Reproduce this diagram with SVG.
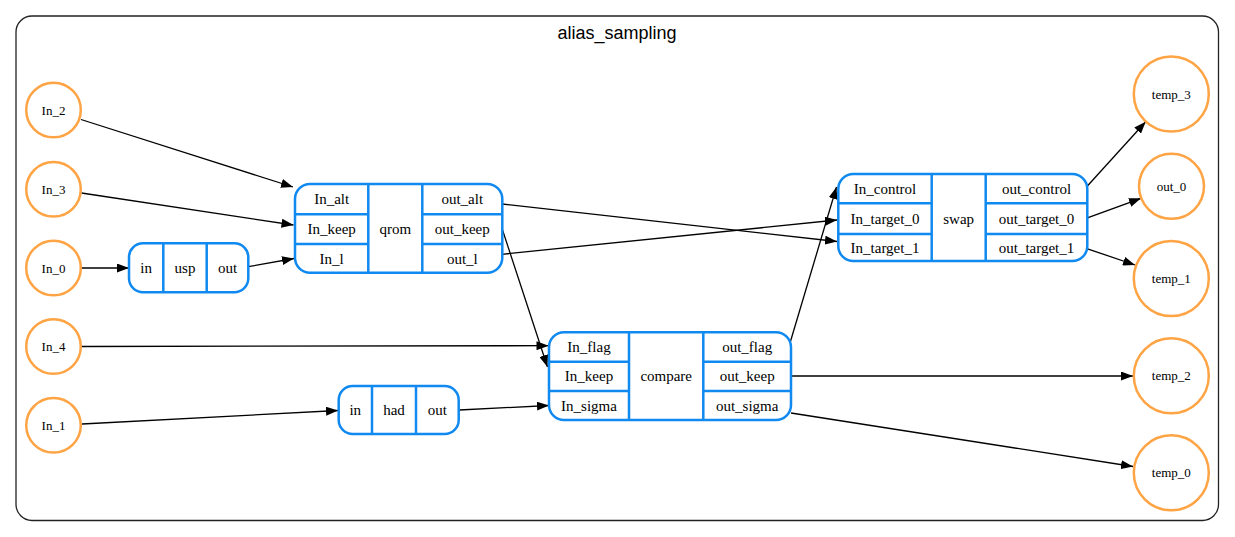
<svg xmlns="http://www.w3.org/2000/svg" width="1235" height="537" viewBox="0 0 1235 537">
  <style>
    .frame { fill: #ffffff; stroke: #222222; stroke-width: 1.3; }
    .title { font-family: "Liberation Sans", Arial, sans-serif; font-size: 18px; fill: #000; text-anchor: middle; }
    .reg { fill: #ffffff; stroke: #ffa444; stroke-width: 2.5; }
    .reglbl { font-family: "Liberation Serif", "Times New Roman", serif; font-size: 13px; fill: #000; text-anchor: middle; }
    .box { fill: #ffffff; stroke: #1089f0; stroke-width: 2.5; }
    .div { stroke: #1089f0; stroke-width: 2.5; fill: none; }
    .lbl { font-family: "Liberation Serif", "Times New Roman", serif; font-size: 15px; fill: #000; text-anchor: middle; }
    .edge { stroke: #000; stroke-width: 1.3; fill: none; marker-end: url(#arrow); }
  </style>
  <defs>
    <marker id="arrow" markerWidth="12" markerHeight="9" refX="12" refY="4.5" orient="auto" markerUnits="userSpaceOnUse">
      <path d="M0,0 L12,4.5 L0,9 z" fill="#000"/>
    </marker>
  </defs>

  <rect width="1235" height="537" fill="#ffffff"/>

  <!-- cluster -->
  <g id="cluster_alias_sampling">
    <rect class="frame" x="16" y="16" width="1202.5" height="504.5" rx="16" ry="16"/>
    <text class="title" x="617" y="39">alias_sampling</text>
  </g>

  <!-- connectors -->
  <g id="edges">
    <line class="edge" x1="81" y1="119.5" x2="293" y2="187"/>
    <line class="edge" x1="81.5" y1="193" x2="293.5" y2="225"/>
    <line class="edge" x1="81.5" y1="268" x2="129" y2="268"/>
    <line class="edge" x1="248.3" y1="266.7" x2="294" y2="258.5"/>
    <line class="edge" x1="502" y1="204" x2="837" y2="241.5"/>
    <line class="edge" x1="502.3" y1="229.3" x2="547.5" y2="367"/>
    <line class="edge" x1="502" y1="254.3" x2="837" y2="220"/>
    <line class="edge" x1="82" y1="346.5" x2="548.5" y2="345.7"/>
    <line class="edge" x1="82" y1="424" x2="338" y2="410.5"/>
    <line class="edge" x1="459.3" y1="410" x2="549" y2="405.5"/>
    <line class="edge" x1="790" y1="343" x2="836.5" y2="187"/>
    <line class="edge" x1="791" y1="376" x2="1133" y2="376"/>
    <line class="edge" x1="791" y1="413" x2="1133" y2="466.5"/>
    <line class="edge" x1="1086.7" y1="186.7" x2="1145.7" y2="121.7"/>
    <line class="edge" x1="1086" y1="218.3" x2="1141" y2="198.3"/>
    <line class="edge" x1="1086" y1="248.3" x2="1135" y2="265"/>
  </g>

  <!-- input registers -->
  <g id="In_2"><circle class="reg" cx="53.5" cy="110" r="27.3"/><text class="reglbl" x="53.5" y="114.5">In_2</text></g>
  <g id="In_3"><circle class="reg" cx="53.5" cy="189.3" r="27.3"/><text class="reglbl" x="53.5" y="193.8">In_3</text></g>
  <g id="In_0"><circle class="reg" cx="53.5" cy="268" r="27.3"/><text class="reglbl" x="53.5" y="272.5">In_0</text></g>
  <g id="In_4"><circle class="reg" cx="53.5" cy="346.5" r="27.3"/><text class="reglbl" x="53.5" y="351">In_4</text></g>
  <g id="In_1"><circle class="reg" cx="53.5" cy="425.3" r="27.3"/><text class="reglbl" x="53.5" y="429.8">In_1</text></g>

  <!-- output registers -->
  <g id="temp_3"><circle class="reg" cx="1171.3" cy="94" r="37.5"/><text class="reglbl" x="1171.3" y="98.5">temp_3</text></g>
  <g id="out_0"><circle class="reg" cx="1171.5" cy="186.3" r="32.5"/><text class="reglbl" x="1171.5" y="190.8">out_0</text></g>
  <g id="temp_1"><circle class="reg" cx="1171.3" cy="278.5" r="37.5"/><text class="reglbl" x="1171.3" y="283">temp_1</text></g>
  <g id="temp_2"><circle class="reg" cx="1171.3" cy="375.8" r="37.5"/><text class="reglbl" x="1171.3" y="380.3">temp_2</text></g>
  <g id="temp_0"><circle class="reg" cx="1171.3" cy="472.8" r="37.5"/><text class="reglbl" x="1171.3" y="477.3">temp_0</text></g>

  <!-- usp -->
  <g id="usp">
    <rect class="box" x="129" y="243.3" width="119.3" height="49" rx="14"/>
    <path class="div" d="M163.3,243.3 V292.3 M206.7,243.3 V292.3"/>
    <text class="lbl" x="146.2" y="273">in</text>
    <text class="lbl" x="185" y="273">usp</text>
    <text class="lbl" x="227.5" y="273">out</text>
  </g>

  <!-- had -->
  <g id="had">
    <rect class="box" x="338.7" y="386" width="120" height="48" rx="14"/>
    <path class="div" d="M372,386 V434 M416,386 V434"/>
    <text class="lbl" x="355.3" y="415">in</text>
    <text class="lbl" x="394" y="415">had</text>
    <text class="lbl" x="437.3" y="415">out</text>
  </g>

  <!-- qrom -->
  <g id="qrom">
    <rect class="box" x="295" y="184" width="207.3" height="88.7" rx="15"/>
    <path class="div" d="M368.3,184 V272.7 M422.3,184 V272.7 M295,214.3 H368.3 M295,244 H368.3 M422.3,214.3 H502.3 M422.3,244 H502.3"/>
    <text class="lbl" x="331.7" y="204">In_alt</text>
    <text class="lbl" x="331.7" y="234">In_keep</text>
    <text class="lbl" x="331.7" y="263.5">In_l</text>
    <text class="lbl" x="395.3" y="234">qrom</text>
    <text class="lbl" x="462.3" y="204">out_alt</text>
    <text class="lbl" x="462.3" y="234">out_keep</text>
    <text class="lbl" x="462.3" y="263.5">out_l</text>
  </g>

  <!-- compare -->
  <g id="compare">
    <rect class="box" x="549" y="332.3" width="242" height="87.7" rx="15"/>
    <path class="div" d="M629,332.3 V420 M703.3,332.3 V420 M549,361.7 H629 M549,391 H629 M703.3,361.7 H791 M703.3,391 H791"/>
    <text class="lbl" x="589" y="352">In_flag</text>
    <text class="lbl" x="589" y="381.3">In_keep</text>
    <text class="lbl" x="589" y="410.5">In_sigma</text>
    <text class="lbl" x="666.2" y="381.3">compare</text>
    <text class="lbl" x="747.2" y="352">out_flag</text>
    <text class="lbl" x="747.2" y="381.3">out_keep</text>
    <text class="lbl" x="747.2" y="410.5">out_sigma</text>
  </g>

  <!-- swap -->
  <g id="swap">
    <rect class="box" x="838.3" y="174" width="249" height="87" rx="15"/>
    <path class="div" d="M931.7,174 V261 M985.7,174 V261 M838.3,203.3 H931.7 M838.3,234 H931.7 M985.7,203.3 H1087.3 M985.7,234 H1087.3"/>
    <text class="lbl" x="885" y="193.7">In_control</text>
    <text class="lbl" x="885" y="223.7">In_target_0</text>
    <text class="lbl" x="885" y="252.5">In_target_1</text>
    <text class="lbl" x="958.7" y="223.7">swap</text>
    <text class="lbl" x="1036.5" y="193.7">out_control</text>
    <text class="lbl" x="1036.5" y="223.7">out_target_0</text>
    <text class="lbl" x="1036.5" y="252.5">out_target_1</text>
  </g>
</svg>
